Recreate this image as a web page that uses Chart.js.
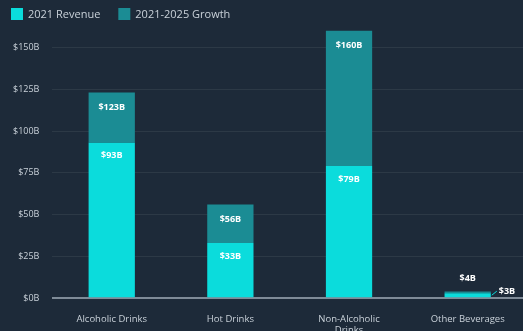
<!DOCTYPE html>
<html>
<head>
<meta charset="utf-8">
<script src="https://cdn.jsdelivr.net/npm/chart.js@4"></script>
<style>
  html, body { margin: 0; padding: 0; background: #1d2a39; overflow: hidden; }
  #wrap { width: 527px; height: 331px; position: relative; }
</style>
</head>
<body>
<div id="wrap"><canvas id="myChart"></canvas></div>
<script>
// beverage market, revenue in $B
var categories = ['Alcoholic Drinks', 'Hot Drinks', ['Non-Alcoholic', 'Drinks'], 'Other Beverages'];
var revenue2021 = [93, 33, 79, 3];
var growth = [30, 23, 81, 1];
var yTicks = [0, 25, 50, 75, 100, 125, 150];

var CYAN = '#0bdcdc';
var TEAL = '#1b8c94';
var FONT = '"Open Sans", Lato, sans-serif';

// legend row across the top-left corner
var topLegend = {
    id: 'topLegend',
    afterDraw: function(chart) {
        var ctx = chart.ctx;
        var x = 11;
        ctx.save();
        ctx.font = '11px ' + FONT;
        ctx.textBaseline = 'middle';
        ctx.textAlign = 'left';
        chart.data.datasets.forEach(function(ds) {
            ctx.fillStyle = ds.backgroundColor;
            ctx.fillRect(x, 8, 12, 12);
            ctx.fillStyle = '#c9d1d9';
            ctx.fillText(ds.label, x + 17, 14.5);
            x += 17 + ctx.measureText(ds.label).width + 18;
        });
        ctx.restore();
    }
};

// value labels drawn on top of the stacked bars
var barLabels = {
    id: 'barLabels',
    afterDatasetsDraw: function(chart) {
        var ctx = chart.ctx;
        var rev = chart.getDatasetMeta(0).data;
        var gro = chart.getDatasetMeta(1).data;
        ctx.save();
        ctx.font = 'bold 9px ' + FONT;
        ctx.fillStyle = '#ffffff';
        ctx.textAlign = 'center';
        ctx.textBaseline = 'middle';
        for (var i = 0; i < categories.length; i++) {
            var total = revenue2021[i] + growth[i];
            var r = rev[i], g = gro[i];
            if (i < 3) {
                ctx.fillText('$' + revenue2021[i] + 'B', r.x, r.y + 13);
                ctx.fillText('$' + total + 'B', g.x, g.y + 15);
            } else {
                // bar is too thin, put the labels outside
                ctx.fillText('$' + total + 'B', g.x, g.y - 13);
                var right = r.x + r.width / 2;
                ctx.strokeStyle = CYAN;
                ctx.lineWidth = 1;
                ctx.beginPath();
                ctx.moveTo(right + 1, r.y + 2);
                ctx.lineTo(right + 6, r.y - 2);
                ctx.stroke();
                ctx.textAlign = 'left';
                ctx.fillText('$' + revenue2021[i] + 'B', right + 8, r.y - 2);
            }
        }
        ctx.restore();
    }
};

var ctx = document.getElementById('myChart').getContext('2d');
var myChart = new Chart(ctx, {
    type: 'bar',
    data: {
        labels: categories,
        datasets: [{
            label: '2021 Revenue',
            data: revenue2021,
            backgroundColor: CYAN
        },
        {
            label: '2021-2025 Growth',
            data: growth,
            backgroundColor: TEAL
        }]
    },
    options: {
        responsive: true,
        maintainAspectRatio: false,
        animation: false,
        layout: {
            padding: { left: 0, right: 0, top: 24, bottom: -12 }
        },
        datasets: {
            bar: {
                barPercentage: 0.39,
                categoryPercentage: 1
            }
        },
        plugins: {
            legend: { display: false },
            tooltip: { enabled: false }
        },
        scales: {
            x: {
                stacked: true,
                grid: { display: false },
                border: { display: false },
                ticks: {
                    color: '#c9d1d9',
                    font: { family: FONT, size: 9.5 },
                    padding: 7,
                    maxRotation: 0
                }
            },
            y: {
                stacked: true,
                min: 0,
                max: 164,
                border: { display: false },
                afterBuildTicks: function(scale) {
                    scale.ticks = yTicks.map(function(v) { return { value: v }; });
                },
                grid: {
                    color: function(c) {
                        return c.tick && c.tick.value === 0 ? '#7f8b98' : 'rgba(255,255,255,0.07)';
                    },
                    lineWidth: function(c) {
                        return c.tick && c.tick.value === 0 ? 2 : 1;
                    },
                    drawTicks: false
                },
                ticks: {
                    color: '#c9d1d9',
                    font: { family: FONT, size: 9 },
                    padding: 13,
                    callback: function(v) { return '$' + v + 'B'; }
                }
            }
        }
    },
    plugins: [barLabels, topLegend]
});
</script>
</body>
</html>
